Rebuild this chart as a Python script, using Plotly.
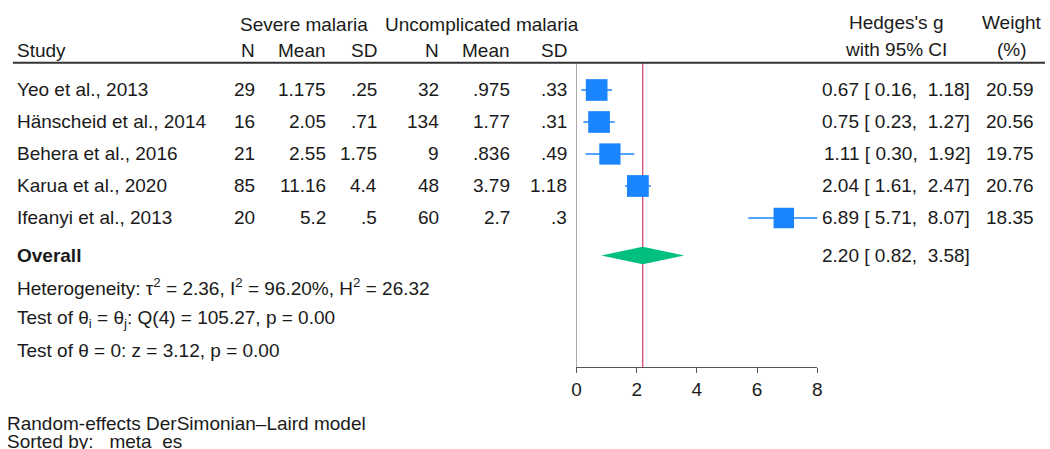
import math
import plotly.graph_objects as go

# ---------------- data ----------------
studies = ["Yeo et al., 2013", "Hänscheid et al., 2014", "Behera et al., 2016",
           "Karua et al., 2020", "Ifeanyi et al., 2013"]
sev_n = [29, 16, 21, 85, 20]
sev_mean = [1.175, 2.05, 2.55, 11.16, 5.2]
sev_sd = [0.25, 0.71, 1.75, 4.4, 0.5]
unc_n = [32, 134, 9, 48, 60]
unc_mean = [0.975, 1.77, 0.836, 3.79, 2.7]
unc_sd = [0.33, 0.31, 0.49, 1.18, 0.3]
hedges_g = [0.67, 0.75, 1.11, 2.04, 6.89]
ci_low = [0.16, 0.23, 0.30, 1.61, 5.71]
ci_high = [1.18, 1.27, 1.92, 2.47, 8.07]
weights = [20.59, 20.56, 19.75, 20.76, 18.35]
overall_g = 2.20
overall_low = 0.82
overall_high = 3.58
x_ticks = [0, 2, 4, 6, 8]
het_lines = [
    "Heterogeneity: τ<sup>2</sup> = 2.36, I<sup>2</sup> = 96.20%, H<sup>2</sup> = 26.32",
    "Test of θ<sub>i</sub> = θ<sub>j</sub>: Q(4) = 105.27, p = 0.00",
    "Test of θ = 0: z = 3.12, p = 0.00",
]
footer_lines = ["Random-effects DerSimonian–Laird model", "Sorted by:   meta_es"]

# ---------------- layout constants ----------------
W, H = 1050, 449
FONT = "Liberation Sans, Arial, sans-serif"
FS = 19
TXT = "#1a1a1a"
BLUE = "#1a85ff"
GREEN = "#00bf7f"
RED = "#d9477a"

PLOT_L, PLOT_R = 577, 820
PLOT_T, PLOT_B = 63, 367
ROW_PITCH = 32
ROW1_PX = 90
y_top = 1 + (PLOT_T - ROW1_PX) / ROW_PITCH
y_bot = 1 + (PLOT_B - ROW1_PX) / ROW_PITCH

rows = list(range(1, len(studies) + 1))
overall_row = 6.17
het_rows = [7.17, 8.17, 9.13]


def fmt(v):
    s = f"{v:g}"
    if s.startswith("0."):
        s = s[1:]
    return s


fig = go.Figure()

# CI lines + squares
fig.add_trace(go.Scatter(
    x=hedges_g, y=rows, mode="markers",
    marker=dict(symbol="square", color=BLUE, opacity=1,
                size=[4.78 * math.sqrt(w) for w in weights], line=dict(width=0)),
    error_x=dict(type="data", symmetric=False,
                 array=[h - g for g, h in zip(hedges_g, ci_high)],
                 arrayminus=[g - l for g, l in zip(hedges_g, ci_low)],
                 color=BLUE, thickness=1.5, width=0),
    cliponaxis=False, hoverinfo="skip", showlegend=False,
))

# overall diamond
dh = 8.7 / ROW_PITCH
fig.add_trace(go.Scatter(
    x=[overall_low, overall_g, overall_high, overall_g, overall_low],
    y=[overall_row, overall_row - dh, overall_row, overall_row + dh, overall_row],
    mode="lines", fill="toself", fillcolor=GREEN, line=dict(width=0, color=GREEN),
    hoverinfo="skip", showlegend=False,
))

# overall reference line
fig.add_shape(type="line", xref="x", yref="y domain", x0=overall_g, x1=overall_g,
              y0=0, y1=1, line=dict(color=RED, width=1.3), layer="below")

# header rule
fig.add_shape(type="line", xref="paper", yref="paper", x0=8 / W, x1=1,
              y0=1 - 62.7 / H, y1=1 - 62.7 / H, line=dict(color="#333333", width=2))

annotations = []


def add(xpx, y, text, anchor, yref="y", bold=False):
    if yref == "paper":
        y = 1 - y / H
    annotations.append(dict(
        x=xpx / W, xref="paper", y=y, yref=yref, text=f"<b>{text}</b>" if bold else text,
        xanchor=anchor, yanchor="middle", showarrow=False, borderpad=0, borderwidth=0,
        font=dict(family=FONT, size=FS, color=TXT)))


# headers
add(302, 24, "Severe malaria", "center", "paper")
add(482, 24, "Uncomplicated malaria", "center", "paper")
add(900, 23, "Hedges's g", "center", "paper")
add(1017, 23, "Weight", "center", "paper")
add(12, 50, "Study", "left", "paper")
col_right = [252, 324, 376, 438, 510, 567]
for xr, lab in zip(col_right, ["N", "Mean", "SD", "N", "Mean", "SD"]):
    add(xr, 50, lab, "right", "paper")
add(900, 49, "with 95% CI", "center", "paper")
add(1017, 49, "(%)", "center", "paper")

# study rows
for i, r in enumerate(rows):
    add(12, r, studies[i], "left")
    vals = [str(sev_n[i]), fmt(sev_mean[i]), fmt(sev_sd[i]),
            str(unc_n[i]), fmt(unc_mean[i]), fmt(unc_sd[i])]
    for xr, v in zip(col_right, vals):
        add(xr, r, v, "right")
    add(974, r, f"{hedges_g[i]:.2f} [{ci_low[i]:5.2f}, {ci_high[i]:5.2f}]", "right")
    add(1039, r, f"{weights[i]:.2f}", "right")

# overall row
add(12, overall_row, "Overall", "left", bold=True)
add(974, overall_row, f"{overall_g:.2f} [{overall_low:5.2f}, {overall_high:5.2f}]", "right")
for r, t in zip(het_rows, het_lines):
    add(12, r, t, "left")

# footer
add(2, 423, footer_lines[0], "left", "paper")
add(2, 441.5, footer_lines[1], "left", "paper")

fig.update_layout(
    width=W, height=H, margin=dict(l=0, r=0, t=0, b=0),
    paper_bgcolor="white", plot_bgcolor="white",
    annotations=annotations, showlegend=False,
    xaxis=dict(domain=[PLOT_L / W, PLOT_R / W], range=[0, 8], tickvals=x_ticks,
               ticks="outside", ticklen=5, tickwidth=1.3, tickcolor="#555555",
               showline=True, linecolor="#555555", linewidth=1.3,
               showgrid=False, zeroline=False,
               tickfont=dict(family=FONT, size=FS, color=TXT)),
    yaxis=dict(domain=[1 - PLOT_B / H, 1 - PLOT_T / H], range=[y_bot, y_top],
               showline=True, linecolor="#aaaaaa", linewidth=1.3,
               showticklabels=False, ticks="", showgrid=False, zeroline=False),
)

fig.write_html("out.html")
